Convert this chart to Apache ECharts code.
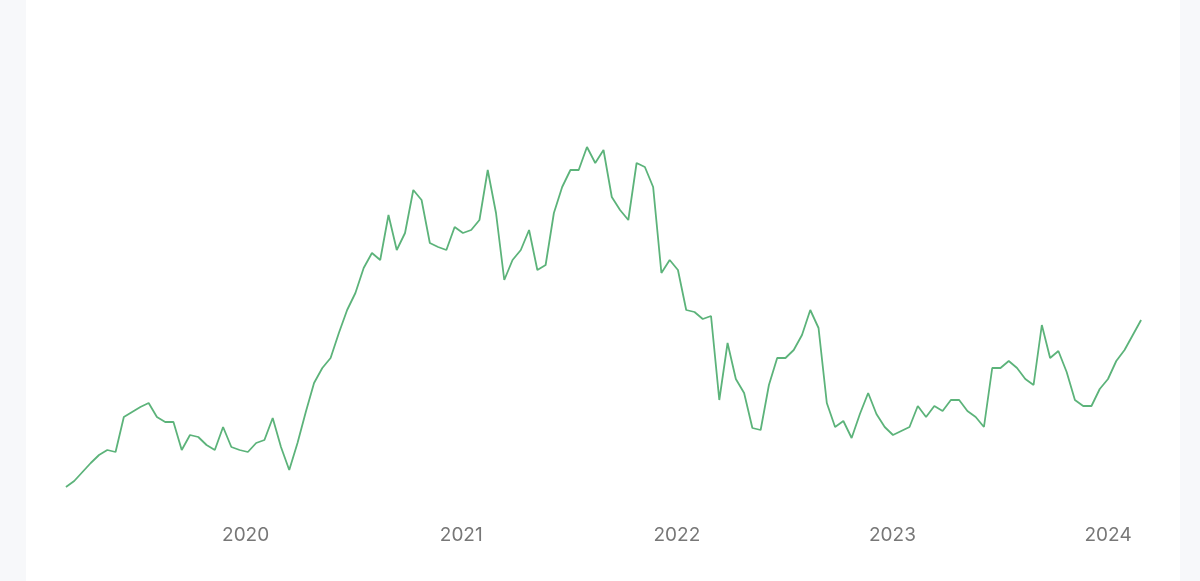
<!DOCTYPE html>
<html><head><meta charset="utf-8">
<script src="https://cdn.jsdelivr.net/npm/echarts@6/dist/echarts.min.js"></script>
<style>
html,body{margin:0;padding:0;background:#f7f8fa;}
#panel{position:absolute;left:26px;top:0;width:1154px;height:581px;background:#fff;}
#c{position:absolute;left:0;top:0;width:1200px;height:581px;}
</style></head><body>
<div id="panel"></div><div id="c"></div>
<script>
const startYear = 2019.1667;
const stepYears = 14 / 365;
const values = [
13,19,28,37,45,50,48,83,88,93,97,83,78,78,50,65,63,55,50,73,53,50,48,57,60,82,53,30,57,88,
117,132,142,167,190,207,232,247,240,285,250,267,310,300,257,253,250,273,267,270,280,330,287,220,240,250,270,230,235,287,
313,330,330,353,337,350,303,290,280,337,333,313,227,240,230,
190,188,181,184,100,157,121,107,72,70,115,142,142,150,165,190,172,97,73,79,62,86,107,86,73,65,69,73,94,83,94,89,100,100,89,83,73,
132,132,139,132,121,115,175,142,149,128,100,94,94,111,121,139,150,165,180
];
const yearTicks = [2020,2021,2022,2023,2024];
const data = values.map((v,i)=>[startYear + i*stepYears, v]);
const chart = echarts.init(document.getElementById('c'));
chart.setOption({
  backgroundColor:'transparent',
  animation:false,
  grid:{left:30,right:38,top:0,bottom:81},
  xAxis:{type:'value',min:2019,max:2024.25,interval:1,
    axisLine:{show:false},axisTick:{show:false},splitLine:{show:false},
    axisLabel:{margin:26,color:'#777777',fontSize:19,fontFamily:'Inter',
      formatter:v=>yearTicks.includes(v)?String(v):''}},
  yAxis:{type:'value',min:0,max:500,show:false},
  series:[{type:'line',data:data,showSymbol:false,
    lineStyle:{color:'#5cb37a',width:1.8},itemStyle:{color:'#5cb37a'}}]
});
</script></body></html>
